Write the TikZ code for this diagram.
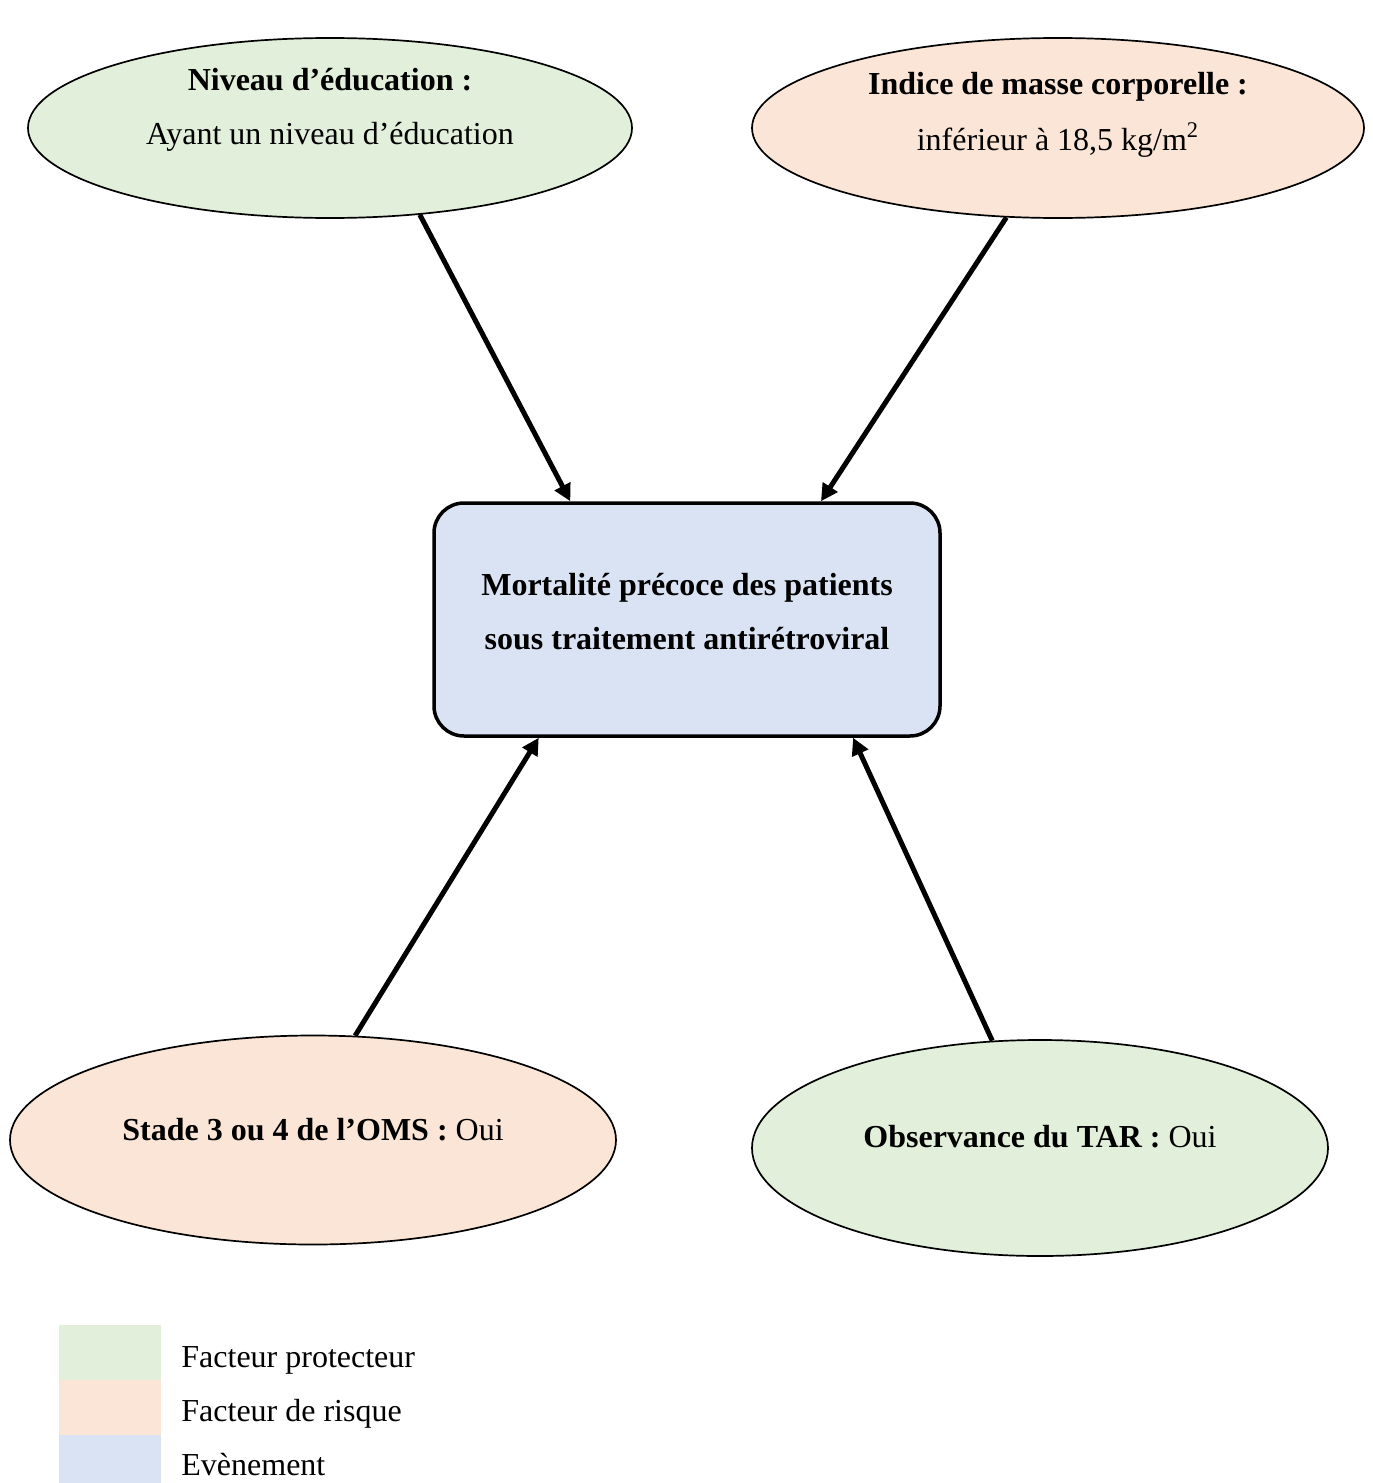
\documentclass[tikz,border=0pt]{standalone}
\usepackage{fontspec}
\setmainfont{Liberation Serif}
\usetikzlibrary{shapes.geometric,arrows.meta,calc}
\definecolor{cgreen}{HTML}{E2EFDA}
\definecolor{corange}{HTML}{FBE5D6}
\definecolor{cblue}{HTML}{DAE3F3}
\begin{document}
\begin{tikzpicture}[x=0.5pt,y=-0.5pt,
  ell/.style={ellipse,draw=black,line width=0.85pt,inner sep=0pt},
  evbox/.style={rectangle,rounded corners=15pt,draw=black,line width=1.75pt,fill=cblue,inner sep=0pt,minimum width=253pt,minimum height=116.5pt},
  txt/.style={anchor=base,inner sep=0pt,font=\fontsize{16}{19}\selectfont},
  arr/.style={line width=2.5pt,-{Triangle[length=8.5pt,width=8.5pt]}},
  leg/.style={rectangle,inner sep=0pt,minimum width=51pt,anchor=north west}]
\useasboundingbox (0,0) rectangle (1372,1483);
% ellipses
\node[ell,fill=cgreen,minimum width=302pt,minimum height=90pt] (e1) at (330,128) {};
\node[ell,fill=corange,minimum width=306pt,minimum height=90pt] (e2) at (1058,128) {};
\node[ell,fill=corange,minimum width=303pt,minimum height=104.5pt] (e3) at (313,1140) {};
\node[ell,fill=cgreen,minimum width=288pt,minimum height=108pt] (e4) at (1040,1148) {};
\node[evbox] (box) at (687,619.5) {};
% texts
\node[txt] (t1a) at (330,90) {\textbf{Niveau d’éducation :}};
\node[txt] (t1b) at (330,144) {Ayant un niveau d’éducation};
\node[txt] (t2a) at (1058,94) {\textbf{Indice de masse corporelle :}};
\node[txt] (t2b) at (1058,150) {inférieur à 18,5 kg/m\textsuperscript{2}};
\node[txt] (tb1) at (687,595) {\textbf{Mortalité précoce des patients}};
\node[txt] (tb2) at (687,649) {\textbf{sous traitement antirétroviral}};
\node[txt] (t3) at (313,1140) {\textbf{Stade 3 ou 4 de l’OMS :} Oui};
\node[txt] (t4) at (1040,1147) {\textbf{Observance du TAR :} Oui};
% arrows
\draw[arr] (e1.-44.4) -- ($(box.north west)!0.271!(box.north east)$);
\draw[arr] (e2.-120.3) -- ($(box.north west)!0.763!(box.north east)$);
\draw[arr] (e3.68.3) -- ($(box.south west)!0.209!(box.south east)$);
\draw[arr] (e4.114.5) -- ($(box.south west)!0.826!(box.south east)$);
% legend
\node[leg,fill=cgreen,minimum height=27.5pt] (l1) at (59,1325) {};
\node[leg,fill=corange,minimum height=27.5pt] (l2) at (59,1380) {};
\node[leg,fill=cblue,minimum height=24pt] (l3) at (59,1435) {};
\node[txt,anchor=base west] (lt1) at (181,1367) {Facteur protecteur};
\node[txt,anchor=base west] (lt2) at (181,1421) {Facteur de risque};
\node[txt,anchor=base west] (lt3) at (181,1475) {Evènement};
\end{tikzpicture}
\end{document}
